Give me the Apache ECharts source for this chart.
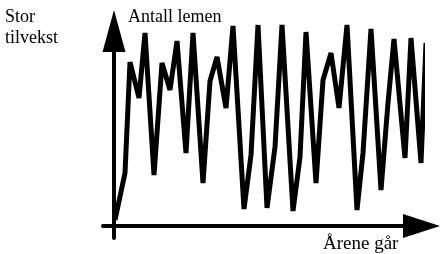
<!DOCTYPE html>
<html>
<head>
<meta charset="utf-8">
<script src="https://cdn.jsdelivr.net/npm/echarts@6/dist/echarts.min.js"></script>
<style>
  html, body { margin: 0; padding: 0; background: #fff; }
  #chart { width: 440px; height: 254px; }
</style>
</head>
<body>
<div id="chart"></div>
<script>
// år (posisjon langs x-aksen) og antall lemen, lest av bildet
const years = [1, 11, 16, 25, 31, 40, 48, 56, 63, 72, 79, 89, 96, 103, 112, 119, 130, 137, 144, 153,
  161, 168, 179, 186, 192, 202, 209, 217, 225, 233, 243, 249, 257, 267, 274, 280, 291, 297, 307, 312, 322]
const lemmings = [6, 53, 164, 128, 193, 51, 163, 136, 185, 73, 193, 43, 145, 169, 118, 200, 17, 71, 201, 18,
  79, 201, 15, 69, 194, 43, 146, 173, 118, 201, 16, 73, 197, 36, 123, 187, 68, 188, 63, 183, 78]

const yLabel = 'Antall lemen'
const xLabel = 'Årene går'
const cornerLabel = 'Stor\ntilvekst'

const points = years.map((x, i) => [x, lemmings[i]])
const serif = '"Liberation Serif", "DejaVu Serif", serif'

const myChart = echarts.init(document.getElementById('chart'))
const option = {
  animation: false,
  grid: {
    left: 103,
    right: 18.5,
    top: 31,
    bottom: 16
  },
  xAxis: {
    type: 'value',
    min: -11,
    max: 307.5,
    splitLine: { show: false },
    axisTick: { show: false },
    axisLabel: { show: false },
    axisLine: {
      onZero: true,
      symbol: ['none', 'triangle'],
      symbolSize: [24, 37],
      lineStyle: { color: '#000', width: 4 }
    }
  },
  yAxis: {
    type: 'value',
    min: -12,
    max: 195,
    splitLine: { show: false },
    axisTick: { show: false },
    axisLabel: { show: false },
    axisLine: {
      onZero: true,
      symbol: ['none', 'triangle'],
      symbolSize: [23, 42],
      lineStyle: { color: '#000', width: 4 }
    }
  },
  series: [
    {
      type: 'line',
      data: points,
      clip: false,
      showSymbol: false,
      lineStyle: { color: '#000', width: 5, join: 'bevel' }
    }
  ],
  graphic: [
    {
      type: 'text',
      style: { x: 5, y: 7, text: cornerLabel, font: '18px ' + serif, lineHeight: 21, fill: '#000', verticalAlign: 'top' }
    },
    {
      type: 'text',
      style: { x: 128, y: 17, text: yLabel, font: '18px ' + serif, fill: '#000', verticalAlign: 'middle' }
    },
    {
      type: 'text',
      style: { x: 323, y: 243.6, text: xLabel, font: '19px ' + serif, fill: '#000', verticalAlign: 'middle' }
    }
  ]
}
myChart.setOption(option)
</script>
</body>
</html>
